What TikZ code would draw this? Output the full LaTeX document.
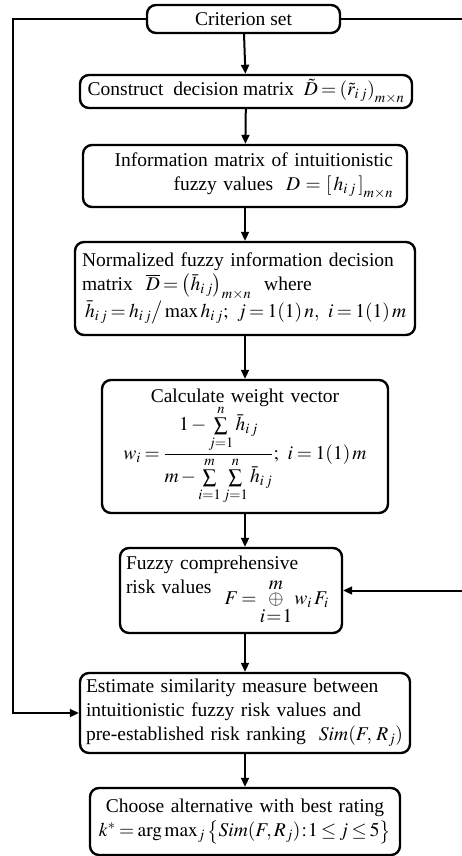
\documentclass[tikz,border=0pt]{standalone}
\usepackage{amsmath, amssymb}
\usepackage{mathptmx}
\usepackage{fontspec}
\setmainfont{Liberation Serif}
\usetikzlibrary{arrows.meta}

\newcommand{\stagefont}{\fontsize{19.5}{24}\selectfont
  \hyphenpenalty=10000 \thickmuskip=3mu plus 1mu \medmuskip=2mu \thinmuskip=2mu}

\tikzset{
  stage/.style={draw, line width=2.4pt, rounded corners=9pt, inner sep=0pt,
    font=\stagefont},
  flow/.style={line width=2pt, -{Triangle[length=9pt,width=8pt]}},
  rail/.style={line width=2pt},
}

\begin{document}
\begin{tikzpicture}[x=1pt,y=-1pt]
  \useasboundingbox (0,0) rectangle (462,856);

  % Stages of the method
  \node[stage, minimum width=193pt, minimum height=28pt] (crit) at (243.5,19) {Criterion set};

  \node[stage, minimum width=332pt, minimum height=33pt] (construct) at (246,91.5)
    {Construct~ decision matrix~ $\tilde{D}=\left(\tilde{r}_{i\,j}\right)_{m\times n}$};

  \node[stage, minimum width=324pt, minimum height=62pt, text width=296pt, align=right] (info) at (245,176)
    {Information matrix of intuitionistic\hspace*{10pt}\\
     fuzzy values~ $D=\left[\,h_{i\,j}\,\right]_{m\times n}$};

  \node[stage, minimum width=340pt, minimum height=93pt, text width=326pt, align=left] (norm) at (245,288.5)
    {Normalized fuzzy information decision\\
     matrix~ $\overline{D}=\left(\bar{h}_{i\,j}\right)_{m\times n}$~ where\\
     \hspace*{3pt}$\bar{h}_{i\,j}=h_{i\,j}\big/\max h_{i\,j};\ j=1(1)\,n,\ i=1(1)\,m$};

  \node[stage, minimum width=286pt, minimum height=133pt, text width=276pt, align=center] (weight) at (245,446.5)
    {Calculate weight vector\\[-2pt]
     $\displaystyle w_i=\frac{1-\sum\limits_{j=1}^{n}\bar{h}_{i\,j}}
       {m-\sum\limits_{i=1}^{m}\sum\limits_{j=1}^{n}\bar{h}_{i\,j}};\ i=1(1)\,m$};

  \node[stage, minimum width=222pt, minimum height=85pt, text width=210pt, align=left] (fuzzy) at (231,590.5)
    {Fuzzy comprehensive\\
     risk values~ \raisebox{-11pt}{$F=\mathop{\oplus}\limits_{\textstyle i\!=\!1}^{\textstyle m} w_i\,F_i$}};

  \node[stage, minimum width=330pt, minimum height=80pt, text width=318pt, align=left] (estimate) at (245,713)
    {Estimate similarity measure between\\
     intuitionistic fuzzy risk values and\\
     pre-established risk ranking~ $Sim(F,\,R_j)$};

  \node[stage, minimum width=310pt, minimum height=67pt, text width=306pt, align=center] (choose) at (245,821.5)
    {Choose alternative with best rating\\
     $k^{*}=\arg\max\nolimits_{j}\left\{Sim(F,R_j)\!:\!1\le j\le 5\right\}$};

  % Main flow
  \draw[flow] (crit) -- (construct);
  \draw[flow] (construct) -- (info);
  \draw[flow] (info) -- (norm);
  \draw[flow] (norm) -- (weight);
  \draw[flow] (weight.south) -- (weight.south |- fuzzy.north);
  \draw[flow] (fuzzy.south -| estimate.north) -- (estimate.north);
  \draw[flow] (estimate) -- (choose);

  % Side rails
  \coordinate (leftrail) at (13,400);
  \coordinate (rightedge) at (462,0);
  \draw[flow] (crit.west) -| (leftrail) |- (estimate.west);
  \draw[rail] (crit.east) -- (crit.east -| rightedge);
  \draw[flow] (rightedge |- fuzzy.east) -- (fuzzy.east);

\end{tikzpicture}
\end{document}
